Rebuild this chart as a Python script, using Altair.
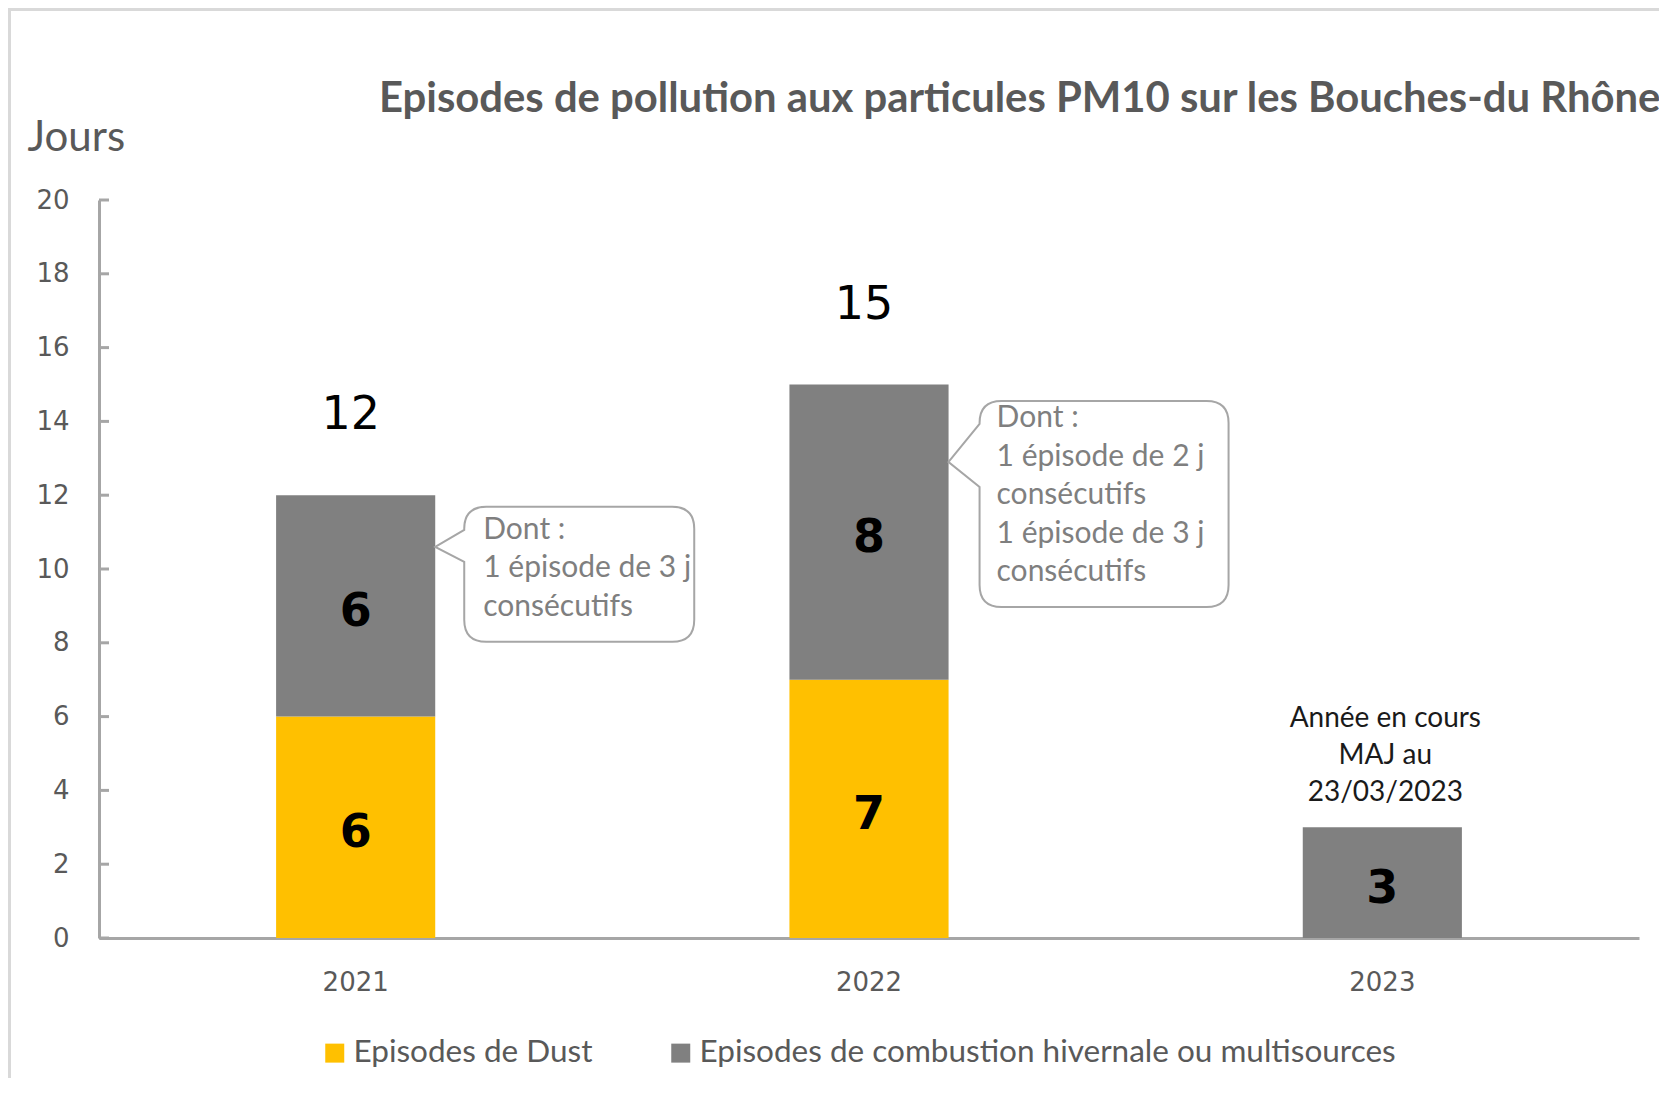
import altair as alt
import pandas as pd

# ---------------- data ----------------
years = ["2021", "2022", "2023"]
dust = [6, 7, 0]
combustion = [6, 8, 3]
series = ["Episodes de  Dust", "Episodes de combustion hivernale ou multisources"]
colors = ["#FFC000", "#808080"]

total_years = ["2021", "2022"]
totals = [12, 15]

y_ticks = [0, 2, 4, 6, 8, 10, 12, 14, 16, 18, 20]

callout_years = ["2021", "2022"]
callout_tip = [10.6, 12.9]
callout_text_y = [11.06, 14.08]
callout_texts = [
    "Dont :\n1 épisode de 3 j\nconsécutifs",
    "Dont :\n1 épisode de 2 j\nconsécutifs\n1 épisode de 3 j\nconsécutifs",
]
callout_shapes = [
    "M0,0 L0.29,-0.17 L0.29,-0.18 Q0.29,-0.40 0.51,-0.40 L2.37,-0.40 Q2.59,-0.40 2.59,-0.18 "
    "L2.59,0.73 Q2.59,0.95 2.37,0.95 L0.51,0.95 Q0.29,0.95 0.29,0.73 L0.29,0.15 Z",
    "M0,0 L0.31,-0.38 L0.31,-0.39 Q0.31,-0.61 0.53,-0.61 L2.58,-0.61 Q2.80,-0.61 2.80,-0.39 "
    "L2.80,1.23 Q2.80,1.45 2.58,1.45 L0.53,1.45 Q0.31,1.45 0.31,1.23 L0.31,0.25 Z",
]

note_year = "2023"
note_y = 5.93
note_text = "Année en cours\nMAJ au\n23/03/2023"

title_text = "Episodes de pollution aux particules PM10 sur les Bouches-du Rhône"

# ---------------- tables ----------------
rows = []
for yr, d, c in zip(years, dust, combustion):
    if d > 0:
        rows.append({"year": yr, "serie": series[0], "order": 0, "y0": 0, "y1": d, "val": d})
    if c > 0:
        rows.append({"year": yr, "serie": series[1], "order": 1, "y0": d, "y1": d + c, "val": c})
bars_df = pd.DataFrame(rows)
totals_df = pd.DataFrame({"year": total_years, "total": totals})
ticks_df = pd.DataFrame({"v": y_ticks})
callout_df = pd.DataFrame({"year": callout_years, "tip": callout_tip,
                           "ty": callout_text_y, "txt": callout_texts, "shape": callout_shapes})
note_df = pd.DataFrame({"year": [note_year], "y": [note_y], "txt": [note_text]})
title_df = pd.DataFrame({"t": [title_text]})
frame_df = pd.DataFrame({"a": [0]})

W, H = 1540, 738
AXIS_GRAY = "#a6a6a6"
TEXT_GRAY = "#595959"

xscale = alt.Scale(domain=years, paddingInner=0.69, paddingOuter=0.345)
yscale = alt.Scale(domain=[0, 20], nice=False, zero=True)

x_axis = alt.Axis(title=None, labelAngle=0, labelFont="DejaVu Sans", labelFontSize=26,
                  labelColor=TEXT_GRAY, labelPadding=31, ticks=False, tickSize=0,
                  domainColor=AXIS_GRAY, domainWidth=3, grid=False)
y_axis = alt.Axis(values=y_ticks, title="Jours", titleAngle=0, titleX=-72, titleY=-63,
                  titleAlign="left", titleBaseline="middle", titleFont="Lato",
                  titleFontSize=42, titleFontWeight="normal", titleColor=TEXT_GRAY,
                  labelFont="DejaVu Sans", labelFontSize=26, labelColor=TEXT_GRAY,
                  labelPadding=30, ticks=False, tickSize=0, domainColor=AXIS_GRAY,
                  domainWidth=3, grid=False)


def X(**kw):
    return alt.X("year:N", scale=xscale, axis=x_axis, sort=years, **kw)


def Y(field):
    return alt.Y(field, scale=yscale, axis=y_axis)


frame = alt.Chart(frame_df).mark_rect(fillOpacity=0, stroke="#d9d9d9", strokeWidth=3).encode(
    x=alt.value(-89.5), x2=alt.value(1700), y=alt.value(-190.5), y2=alt.value(1100)
)

bars = alt.Chart(bars_df).mark_bar().encode(
    x=X(),
    y=Y("y1:Q"),
    y2="y0:Q",
    color=alt.Color("serie:N", scale=alt.Scale(domain=series, range=colors),
                    legend=alt.Legend(title=None, orient="none", legendX=220, legendY=837,
                                      direction="horizontal", symbolType="square",
                                      symbolSize=361, symbolStrokeWidth=0, padding=0,
                                      labelFont="Lato", labelFontSize=31.5,
                                      labelColor=TEXT_GRAY, columnPadding=64,
                                      labelOffset=3, labelLimit=0)),
    order=alt.Order("order:Q"),
)

ticks = alt.Chart(ticks_df).mark_rule(color=AXIS_GRAY, strokeWidth=3).encode(
    x=alt.value(0), x2=alt.value(10), y=Y("v:Q")
)

seg_labels = alt.Chart(bars_df).transform_calculate(
    mid="(datum.y0 + datum.y1) / 2"
).mark_text(font="DejaVu Sans", fontWeight="bold", fontSize=46, color="#000000",
            baseline="middle", align="center", dy=6).encode(
    x=X(),
    y=Y("mid:Q"),
    text="val:Q",
)

total_labels = alt.Chart(totals_df).mark_text(
    font="DejaVu Sans", fontSize=46, color="#000000", baseline="middle", align="center",
    dy=-80, dx=-5
).encode(
    x=X(),
    y=Y("total:Q"),
    text="total:Q",
)

bubbles = alt.Chart(callout_df).mark_point(
    filled=True, fill="white", fillOpacity=1, stroke=AXIS_GRAY, strokeWidth=2,
    strokeOpacity=1, size=40000, opacity=1
).encode(
    x=X(bandPosition=1),
    y=Y("tip:Q"),
    shape=alt.Shape("shape:N", scale=None, legend=None),
)

bubble_text = alt.Chart(callout_df).mark_text(
    font="Lato", fontSize=30, color="#7f7f7f", align="left", baseline="middle",
    lineBreak="\n", lineHeight=38.5, dx=48
).encode(
    x=X(bandPosition=1),
    y=Y("ty:Q"),
    text="txt:N",
)

note = alt.Chart(note_df).mark_text(
    font="Lato", fontSize=28, color="#1a1a1a", align="center", baseline="middle",
    lineBreak="\n", lineHeight=37, dx=3
).encode(
    x=X(),
    y=Y("y:Q"),
    text="txt:N",
)

title = alt.Chart(title_df).mark_text(
    font="Lato", fontWeight="bold", fontSize=41.8, color=TEXT_GRAY, align="left",
    baseline="alphabetic"
).encode(x=alt.value(280), y=alt.value(-88), text="t:N")

chart = alt.layer(
    frame, bars, ticks, seg_labels, total_labels, bubbles, bubble_text, note, title
).properties(
    width=W, height=H,
    padding={"left": 91, "top": 192, "right": 20, "bottom": 140},
    autosize="none",
    background="white",
).configure_view(stroke=None)

chart.save("out.html", embed_options={"renderer": "svg", "actions": False})
